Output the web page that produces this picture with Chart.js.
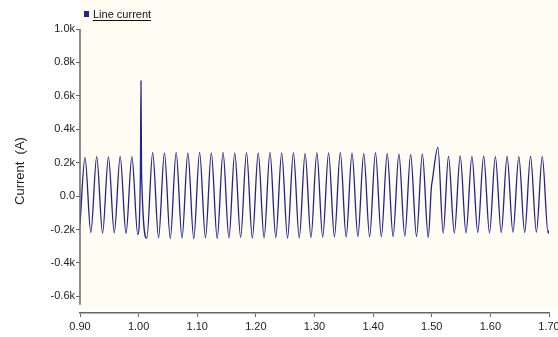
<!DOCTYPE html>
<html>
<head>
<meta charset="utf-8">
<script src="https://cdn.jsdelivr.net/npm/chart.js@4.4.1/dist/chart.umd.min.js"></script>
<style>
  html, body { margin: 0; padding: 0; background: #ffffff; }
  canvas { display: block; }
</style>
</head>
<body>
<canvas id="current-chart" width="558" height="337"></canvas>
<script>
// series: line current (A) against time (s)
const seriesLabel = "Line current";
const timeS = [
  0.9000, 0.9085, 0.9185, 0.9285, 0.9385, 0.9485, 0.9585, 0.9685, 0.9785, 0.9885, 0.9985,
  1.0030, 1.0040, 1.0050, 1.0140,
  1.024, 1.034, 1.044, 1.054, 1.064, 1.074, 1.084, 1.094, 1.104, 1.114,
  1.124, 1.134, 1.144, 1.154, 1.164, 1.174, 1.184, 1.194, 1.204, 1.214,
  1.224, 1.234, 1.244, 1.254, 1.264, 1.274, 1.284, 1.294, 1.304, 1.314,
  1.324, 1.334, 1.344, 1.354, 1.364, 1.374, 1.384, 1.394, 1.404, 1.414,
  1.424, 1.434, 1.444, 1.454, 1.464, 1.474, 1.484, 1.494,
  1.4995, 1.5005, 1.5105, 1.5195,
  1.5285, 1.5385, 1.5485, 1.5585, 1.5685, 1.5785, 1.5885, 1.5985, 1.6085, 1.6185,
  1.6285, 1.6385, 1.6485, 1.6585, 1.6685, 1.6785, 1.6885, 1.6985, 1.7000
];
const currentA = [
  -170, 232, -218, 236, -222, 234, -220, 238, -224, 236, -230,
  120, 690, 140, -252,
  262, -250, 258, -254, 262, -252, 258, -255, 262, -250,
  258, -254, 262, -250, 258, -248, 260, -252, 258, -250,
  262, -248, 258, -252, 260, -250, 256, -248, 260, -246,
  258, -244, 262, -246, 258, -242, 256, -244, 260, -244,
  256, -242, 252, -240, 250, -242, 252, -248,
  60, 82, 292, -222,
  238, -222, 240, -220, 238, -218, 240, -220, 236, -218,
  238, -216, 236, -218, 238, -216, 236, -222, -205
];

// axis ticks
const xTicks = [0.9, 1.0, 1.1, 1.2, 1.3, 1.4, 1.5, 1.6, 1.7];
const yTicks = [-600, -400, -200, 0, 200, 400, 600, 800, 1000];

const lineColor = "#23238f";
const axisColor = "#666666";
const fontFamily = "'Liberation Sans', Arial, sans-serif";

//background, y axis line and legend
const scopeDecor = {
  id: "scopeDecor",
  beforeDraw(chart) {
    const ctx = chart.ctx;
    const area = chart.chartArea;
    const y = chart.scales.y;
    ctx.save();
    ctx.fillStyle = "#ffffff";
    ctx.fillRect(0, 0, chart.width, chart.height);
    ctx.fillStyle = "#fffdf3";
    ctx.fillRect(area.left, 0, chart.width - area.left, y.getPixelForValue(-650) + 4);
    ctx.restore();
  },
  afterDraw(chart) {
    const ctx = chart.ctx;
    const area = chart.chartArea;
    const y = chart.scales.y;
    ctx.save();
    ctx.strokeStyle = axisColor;
    ctx.lineWidth = 1.5;
    ctx.beginPath();
    ctx.moveTo(area.left, y.getPixelForValue(1000));
    ctx.lineTo(area.left, y.getPixelForValue(-650));
    ctx.stroke();

    // legend
    ctx.fillStyle = lineColor;
    ctx.fillRect(area.left + 4, 11, 5, 6);
    ctx.font = "11px " + fontFamily;
    ctx.fillStyle = "#111111";
    ctx.textBaseline = "alphabetic";
    const tx = area.left + 13;
    ctx.fillText(seriesLabel, tx, 18);
    const w = ctx.measureText(seriesLabel).width;
    ctx.strokeStyle = "#111111";
    ctx.lineWidth = 1;
    ctx.beginPath();
    ctx.moveTo(tx, 20.5);
    ctx.lineTo(tx + w, 20.5);
    ctx.stroke();
    ctx.restore();
  }
};

const chart = new Chart(document.getElementById("current-chart"), {
  type: "line",
  data: {
    datasets: [{
      label: seriesLabel,
      data: timeS.map((t, i) => ({ x: t, y: currentA[i] })),
      borderColor: lineColor,
      borderWidth: 1.3,
      pointRadius: 0,
      fill: false,
      cubicInterpolationMode: "monotone"
    }]
  },
  options: {
    responsive: false,
    animation: false,
    devicePixelRatio: 1,
    layout: { padding: { top: 29, right: 0, left: 0, bottom: 0 } },
    plugins: {
      legend: { display: false },
      tooltip: { enabled: false }
    },
    scales: {
      x: {
        type: "linear",
        min: 0.9,
        max: 1.7,
        afterBuildTicks: s => { s.ticks = xTicks.map(v => ({ value: v })); },
        afterFit: s => { s.height = 24; s.paddingRight = 9; },
        ticks: {
          callback: v => v.toFixed(2),
          color: "#222222",
          font: { family: fontFamily, size: 11 },
          padding: 3,
          maxRotation: 0
        },
        grid: { drawOnChartArea: false, tickLength: 4, color: axisColor, lineWidth: 1 },
        border: { display: true, color: axisColor, width: 1.5 }
      },
      y: {
        min: -700,
        max: 1000,
        afterBuildTicks: s => { s.ticks = yTicks.map(v => ({ value: v })); },
        afterFit: s => { s.width = 80; },
        ticks: {
          callback: v => v === 0 ? "0.0" : (v / 1000).toFixed(1) + "k",
          color: "#222222",
          font: { family: fontFamily, size: 11 },
          padding: 1
        },
        grid: { drawOnChartArea: false, tickLength: 4, color: axisColor, lineWidth: 1 },
        border: { display: false },
        title: {
          display: true,
          text: "Current  (A)",
          color: "#222222",
          font: { family: fontFamily, size: 13 },
          padding: { top: 13, bottom: 0 }
        }
      }
    }
  },
  plugins: [scopeDecor]
});
</script>
</body>
</html>
